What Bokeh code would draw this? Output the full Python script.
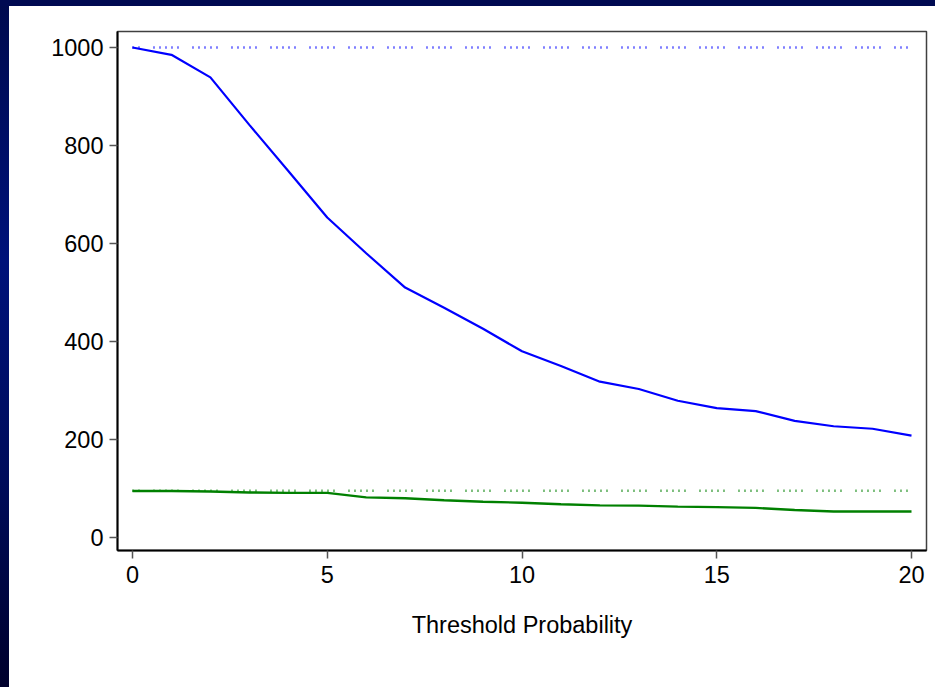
from bokeh.plotting import figure
from bokeh.models import Range1d, FixedTicker
from bokeh.embed import file_html
from bokeh.resources import INLINE

# Data
threshold = [0, 1, 2, 3, 4, 5, 6, 7, 8, 9, 10, 11, 12, 13, 14, 15, 16, 17, 18, 19, 20]
blue_model = [1000, 985, 939, 842, 748, 653, 580, 510, 469, 426, 380, 350, 318, 303, 279, 264, 258, 238, 227, 222, 208]
green_model = [95, 95, 94, 92, 91, 91, 82, 80, 76, 73, 71, 68, 65.5, 65, 63, 62, 60.5, 56, 53, 53, 53]
treat_all_blue = [1000] * len(threshold)
treat_all_green = [95.5] * len(threshold)
x_ticks = [0, 5, 10, 15, 20]
y_ticks = [0, 200, 400, 600, 800, 1000]
x_title = "Threshold Probability"

FONT = "Liberation Sans"

p = figure(width=935, height=687, output_backend="svg", toolbar_location=None,
           x_range=Range1d(-0.385, 20.385), y_range=Range1d(-26.5, 1032.6),
           min_border_left=117, min_border_right=9, min_border_top=31, min_border_bottom=137)

p.border_fill_color = None
p.background_fill_color = "white"
p.styles = {
    "background": "linear-gradient(#000a52, #000a52) top left / 100% 6px no-repeat, "
                  "linear-gradient(to bottom, #000a4e 0%, #00127a 38%, #000c5a 70%, #00002c 100%) top left / 9px 100% no-repeat, "
                  "#ffffff"
}
p.outline_line_color = "#404040"
p.outline_line_width = 1.5
p.xgrid.visible = False
p.ygrid.visible = False

# dotted reference lines (treat all)
dash = "1 5 1 5 1 5 1 5 1 14"
p.line(threshold, treat_all_blue, line_color="#0000ff", line_width=2.5, line_dash=dash, line_dash_offset=18)
p.line(threshold, treat_all_green, line_color="#008000", line_width=2.5, line_dash=dash, line_dash_offset=18)

p.line(threshold, blue_model, line_color="#0000ff", line_width=2.2)
p.line(threshold, green_model, line_color="#008000", line_width=2.4)

for ax in (p.xaxis[0], p.yaxis[0]):
    ax.axis_line_color = "black"
    ax.axis_line_width = 2
    ax.major_tick_line_color = "#555555"
    ax.major_tick_line_width = 1.5
    ax.major_tick_out = 8
    ax.major_tick_in = 0
    ax.minor_tick_line_color = None
    ax.major_label_text_font = FONT
    ax.major_label_text_font_size = "23.5px"
    ax.major_label_text_color = "black"

p.xaxis.ticker = FixedTicker(ticks=x_ticks)
p.yaxis.ticker = FixedTicker(ticks=y_ticks)
p.xaxis.major_label_standoff = 7
p.yaxis.major_label_standoff = 6
p.yaxis.major_label_orientation = "horizontal"

p.xaxis.axis_label = x_title
p.xaxis.axis_label_text_font = FONT
p.xaxis.axis_label_text_font_size = "23.5px"
p.xaxis.axis_label_text_font_style = "normal"
p.xaxis.axis_label_text_color = "black"
p.xaxis.axis_label_standoff = 26

open("out.html", "w").write(file_html(p, INLINE))
